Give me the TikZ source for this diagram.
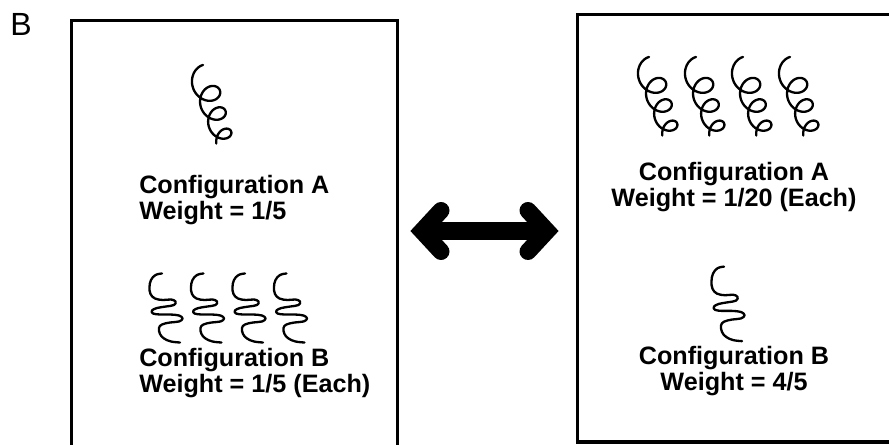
\documentclass[tikz,border=0pt]{standalone}
\usepackage{fontspec}
\setmainfont{Liberation Sans}
\usetikzlibrary{positioning}
\tikzset{
  panel/.style={line width=0.075cm, draw=black},
  coilline/.style={line width=0.058cm, draw=black, line cap=round, line join=round},
  swapbar/.style={line width=0.425cm, draw=black},
  swaphead/.style={line width=0.425cm, draw=black, line cap=round, line join=miter},
  cfgLbl/.style={font=\fontsize{17.9}{18.5}\selectfont\bfseries, inner sep=0pt},
  panelTag/.style={font=\fontsize{22.8}{24}\selectfont, inner sep=0pt},
  % tight coil with loops
  coilA/.pic={
    \draw[coilline] plot[domain=0:1170, samples=260, variable=\t]
      ({-(13-0.0035*\t)*sin(\t)+0.019*\t},{-(13-0.0035*\t)*cos(\t)+0.056*\t});
  },
  % stretched coil
  coilB/.pic={
    \draw[coilline] plot[smooth, tension=0.65] coordinates {
      (14,1.5) (7.5,3) (3,8) (1.5,15) (2.5,22) (7,26.5) (15,28) (23,27.5)
      (27.5,29.5) (26,33) (18,34.5) (9,36) (4,38.5) (5,41.5) (12,42.5)
      (22,42.5) (31,43.5) (34.5,46.5) (31,49.5) (22,50.5) (14,52.5) (11,56)
      (12,62) (16,66.5) (23,69.5) (32,70.5)};
  },
}

\begin{document}
\begin{tikzpicture}[x=0.025cm, y=-0.025cm]
  \useasboundingbox (0,0) rectangle (889,445);

  \node[panelTag, anchor=base west] (tag) at (10,36) {B};

  % the two panels, cut by the page edge
  \draw[panel] (71,450) -- (71,21) -- (397,21) -- (397,450);
  \draw[panel] (895,15) -- (577,15) -- (577,442) -- (895,442);

  % left panel
  \pic at (203,78) {coilA};
  \foreach \i in {0,...,3}
    \pic at (148+41.5*\i,272) {coilB};
  \node[cfgLbl, align=left, anchor=base west] (leftA) at (139,220)
    {Configuration A\\Weight = 1/5};
  \node[cfgLbl, align=left, anchor=base west] (leftB) at (139,393)
    {Configuration B\\Weight = 1/5 (Each)};

  % right panel
  \foreach \i in {0,...,3}
    \pic at (649+47*\i,70) {coilA};
  \pic[yscale=1.08] at (710,265) {coilB};
  \node[cfgLbl, align=center, anchor=base] (rightA) at (734,207)
    {Configuration A\\Weight = 1/20 (Each)};
  \node[cfgLbl, align=center, anchor=base] (rightB) at (734,391)
    {Configuration B\\Weight = 4/5};

  % exchange arrow
  \coordinate (swapL) at (422,231);
  \coordinate (swapR) at (547,231);
  \draw[swapbar] (swapL) -- (swapR);
  \draw[swaphead] ([shift={(19,-20.5)}]swapL) -- (swapL) -- ([shift={(19,20.5)}]swapL);
  \draw[swaphead] ([shift={(-19,-20.5)}]swapR) -- (swapR) -- ([shift={(-19,20.5)}]swapR);
\end{tikzpicture}
\end{document}
